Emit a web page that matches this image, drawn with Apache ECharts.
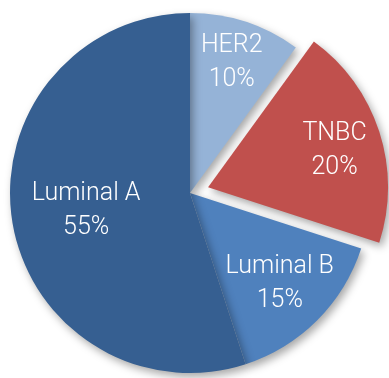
<!DOCTYPE html>
<html>
<head>
<meta charset="utf-8">
<script src="https://cdn.jsdelivr.net/npm/echarts@6/dist/echarts.min.js"></script>
<style>
  html, body { margin: 0; padding: 0; background: #ffffff; }
  #chart { width: 389px; height: 378px; }
</style>
</head>
<body>
<div id="chart"></div>
<script>
// Breast cancer subtypes, share in percent (clockwise from 12 o'clock)
const subtypes = ['HER2', 'TNBC', 'Luminal B', 'Luminal A'];
const shares = [10, 20, 15, 55];
const colors = ['#95b3d7', '#c0504d', '#4f81bd', '#365f91'];
// TNBC is pulled out from the pie
const explodedSubtype = 'TNBC';
// label nudges away from the mid-radius default
const labelNudge = [[13, -42], [38, -8], [24, 25], [-12, 3]];

const chart = echarts.init(document.getElementById('chart'), null, { renderer: 'canvas' });

const data = subtypes.map((name, i) => ({
  name: name,
  value: shares[i],
  selected: name === explodedSubtype,
  itemStyle: { color: colors[i] },
  label: { offset: labelNudge[i] },
  select: { itemStyle: { color: colors[i] }, label: { offset: labelNudge[i] } }
}));

chart.setOption({
  animation: false,
  series: [{
    type: 'pie',
    center: [190, 193],
    radius: [0, 180],
    startAngle: 90,
    clockwise: true,
    selectedMode: 'single',
    selectedOffset: 19,
    avoidLabelOverlap: false,
    data: data,
    itemStyle: {
      borderWidth: 0,
      shadowBlur: 8,
      shadowOffsetX: 3,
      shadowOffsetY: 4,
      shadowColor: 'rgba(0,0,0,0.35)'
    },
    label: {
      show: true,
      position: 'inside',
      formatter: '{b}\n{c}%',
      color: '#ffffff',
      fontFamily: 'Roboto',
      fontWeight: 300,
      fontSize: 25,
      lineHeight: 34,
      align: 'center'
    },
    labelLine: { show: false },
    emphasis: { disabled: true }
  }]
});
</script>
</body>
</html>
